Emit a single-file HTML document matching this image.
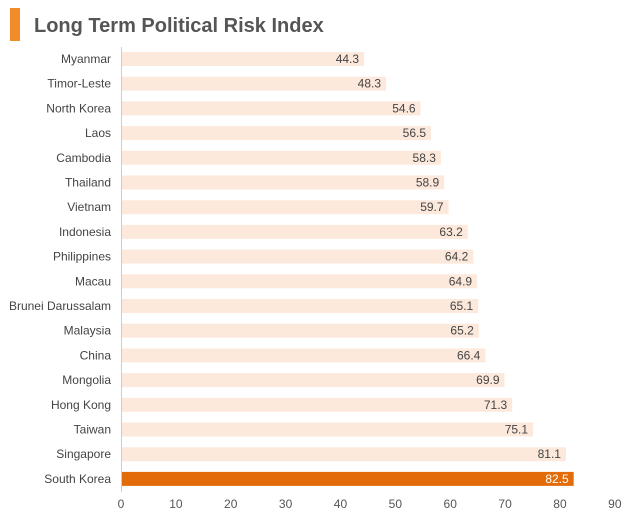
<!DOCTYPE html>
<html><head><meta charset="utf-8"><style>
body{margin:0;background:#fff;font-family:"Liberation Sans",sans-serif;}
</style></head><body>
<svg width="626" height="520" xmlns="http://www.w3.org/2000/svg">
<rect x="10" y="8" width="10" height="33" fill="#f28c28"/>
<text x="34" y="32" font-size="20" font-weight="bold" fill="#555" font-family="Liberation Sans">Long Term Political Risk Index</text>
<g id="plot"></g>
</svg>
<script>
const categories=["Myanmar","Timor-Leste","North Korea","Laos","Cambodia","Thailand","Vietnam","Indonesia","Philippines","Macau","Brunei Darussalam","Malaysia","China","Mongolia","Hong Kong","Taiwan","Singapore","South Korea"];
const values=[44.3,48.3,54.6,56.5,58.3,58.9,59.7,63.2,64.2,64.9,65.1,65.2,66.4,69.9,71.3,75.1,81.1,82.5];
const ticks=[0,10,20,30,40,50,60,70,80,90];
const highlight="South Korea";
const NS="http://www.w3.org/2000/svg";
const g=document.getElementById('plot');
const x=v=>121+v*5.487;
const y=i=>59+i*24.7;
function mk(t,a){const e=document.createElementNS(NS,t);for(const k in a)e.setAttribute(k,a[k]);g.appendChild(e);return e;}
categories.forEach((c,i)=>{
  const hl=c===highlight;
  const b=mk('rect',{x:x(0),y:y(i)-7,width:x(values[i])-x(0),height:14,fill:hl?'#e36c0a':'#fde9dc'});
  
  
  const l=mk('text',{x:111,y:y(i)+4,'font-size':12,fill:'#444','text-anchor':'end','font-family':'Liberation Sans'});
  l.textContent=c;
  
  
  const v=mk('text',{x:x(values[i])-5,y:y(i)+4,'font-size':12,fill:hl?'#fff':'#444','text-anchor':'end','font-family':'Liberation Sans'});
  v.textContent=values[i].toFixed(1);
  
  
});
const ax=mk('line',{x1:121.5,x2:121.5,y1:47,y2:492,stroke:'#ccc','stroke-width':1});


ticks.forEach(t=>{
  const e=mk('text',{x:x(t),y:508,'font-size':12,fill:'#555','text-anchor':'middle','font-family':'Liberation Sans'});
  e.textContent=t;
  
  
});
</script>
</body></html>
